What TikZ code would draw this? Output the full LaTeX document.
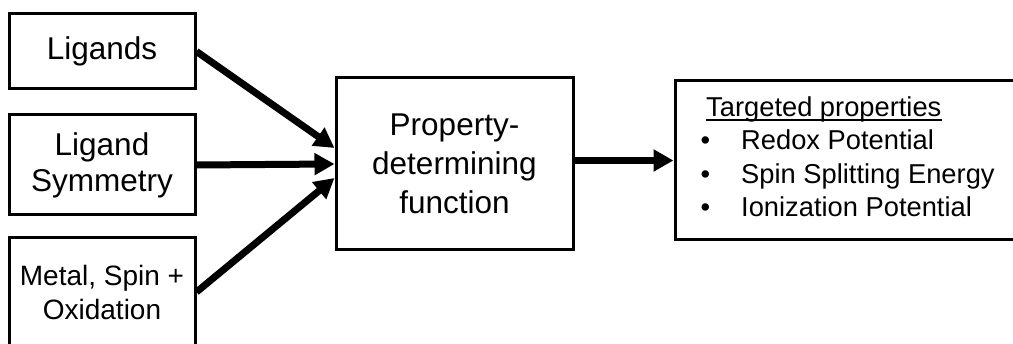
\documentclass[tikz,border=0pt]{standalone}
\usepackage{fontspec}
\setmainfont{Liberation Sans}
\usetikzlibrary{arrows.meta}
\begin{document}
\begin{tikzpicture}[x=1pt,y=-1pt,
  box/.style={draw, line width=3pt, inner sep=0pt, align=center},
  flow/.style={line width=7pt, -{Triangle[length=20pt,width=21pt]}},
  item/.style={anchor=base west, inner sep=0pt, font=\fontsize{27.3}{33}\selectfont}]
\useasboundingbox (0,0) rectangle (1013,344);
\clip (0,0) rectangle (1013,344);

% input boxes
\node[box, minimum width=186pt, minimum height=75pt,
      font=\fontsize{31.5}{36}\selectfont] (lig) at (102,51.5) {Ligands};
\node[box, minimum width=186pt, minimum height=100pt,
      font=\fontsize{31.5}{36}\selectfont] (sym) at (102,165) {Ligand\\Symmetry};
\node[box, minimum width=186pt, minimum height=108pt,
      font=\fontsize{28}{34}\selectfont] (met) at (102,292) {Metal, Spin +\\Oxidation};

% central function
\node[box, minimum width=237pt, minimum height=172pt,
      font=\fontsize{31.5}{39}\selectfont] (fun) at (454.5,164)
      {Property-\\determining\\function};

% output box
\node[box, minimum width=370pt, minimum height=159pt] (out) at (860,160.5) {};
\node[item] (hd) at (706,116.5) {Targeted properties};
\draw[line width=1.4pt] ([yshift=-3.5pt]hd.base west) -- ([yshift=-3.5pt]hd.base east);
\node[item] (p1) at (700.5,150) {\makebox[40.5pt][l]{•}Redox Potential};
\node[item] (p2) at (700.5,183.5) {\makebox[40.5pt][l]{•}Spin Splitting Energy};
\node[item] (p3) at (700.5,217) {\makebox[40.5pt][l]{•}Ionization Potential};

% connectors
\draw[flow] (lig.east) -- ([yshift=16pt]fun.west);
\draw[flow] (sym.east) -- (fun.west);
\draw[flow] (met.east) -- ([yshift=-14pt]fun.west);
\draw[flow] (fun.east |- out.west) -- (out.west);
\end{tikzpicture}
\end{document}
